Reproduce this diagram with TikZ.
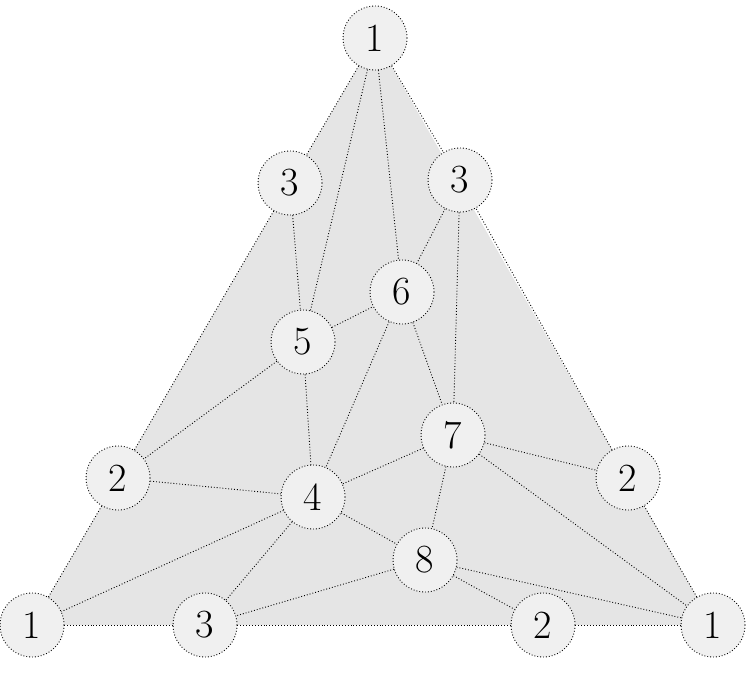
\documentclass[tikz,border=0pt]{standalone}
\begin{document}
\begin{tikzpicture}[x=1pt,y=-1pt,
  vtx/.style={circle,fill=black!6,draw=black,dotted,line width=0.9pt,minimum size=64pt,inner sep=0pt,font=\fontsize{40}{44}\selectfont},
  edg/.style={dotted,black,line width=0.9pt}]
\useasboundingbox (0,0) rectangle (749,680);
\fill[black!10] (375,38) -- (32,625) -- (713,625) -- cycle;
\node[vtx] (t) at (375,38) {1};
\node[vtx] (l3) at (290,183) {3};
\node[vtx] (r3) at (460,180) {3};
\node[vtx] (n6) at (402,292) {6};
\node[vtx] (n5) at (303,342) {5};
\node[vtx] (n7) at (453,435) {7};
\node[vtx] (l2) at (118,478) {2};
\node[vtx] (r2) at (628,478) {2};
\node[vtx] (n4) at (313,497) {4};
\node[vtx] (n8) at (425,560) {8};
\node[vtx] (bl) at (32,625) {1};
\node[vtx] (b3) at (205,625) {3};
\node[vtx] (b2) at (543,625) {2};
\node[vtx] (br) at (713,625) {1};
\foreach \a/\b in {t/l3,t/r3,l3/l2,l2/bl,bl/b3,b3/b2,b2/br,br/r2,r2/r3,
 t/n5,t/n6,l3/n5,n5/n6,r3/n6,r3/n7,n6/n7,n6/n4,n5/n4,n5/l2,l2/n4,n7/n4,n7/r2,n7/br,n7/n8,n4/n8,n4/bl,n4/b3,n8/b3,n8/b2,n8/br}
  \draw[edg] (\a) -- (\b);
\end{tikzpicture}
\end{document}
